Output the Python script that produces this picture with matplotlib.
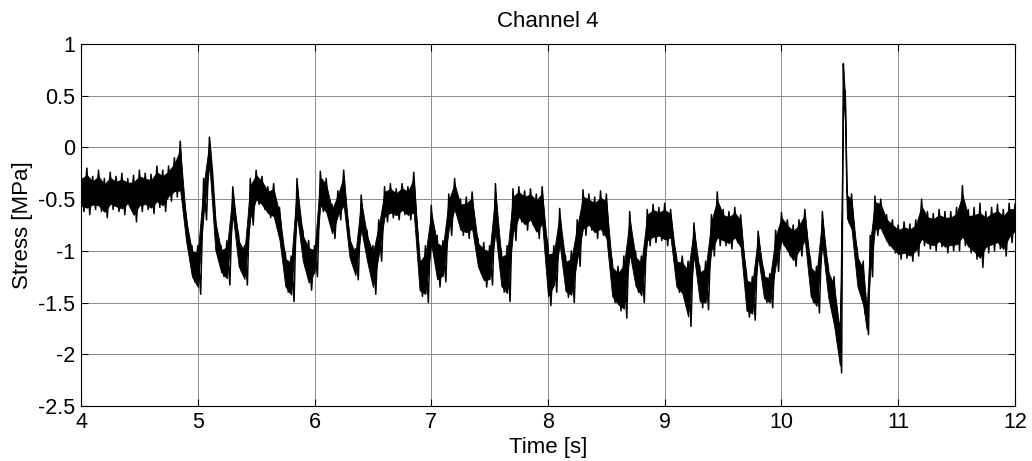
import numpy as np
import matplotlib
matplotlib.use("Agg")
import matplotlib.pyplot as plt

# envelope of the noisy stress signal (time [s], upper/lower [MPa])
t = [4.00, 4.05, 4.10, 4.15, 4.20, 4.25, 4.30, 4.35, 4.40, 4.45,
     4.50, 4.55, 4.60, 4.65, 4.70, 4.75, 4.80, 4.85, 4.90, 4.95,
     5.00, 5.05, 5.10, 5.15, 5.20, 5.25, 5.30, 5.35, 5.40, 5.45,
     5.50, 5.55, 5.60, 5.65, 5.70, 5.75, 5.80, 5.85, 5.90, 5.95,
     6.00, 6.05, 6.10, 6.15, 6.20, 6.25, 6.30, 6.35, 6.40, 6.45,
     6.50, 6.55, 6.60, 6.65, 6.70, 6.75, 6.80, 6.85, 6.90, 6.95,
     7.00, 7.05, 7.10, 7.15, 7.20, 7.25, 7.30, 7.35, 7.40, 7.45,
     7.50, 7.55, 7.60, 7.65, 7.70, 7.75, 7.80, 7.85, 7.90, 7.95,
     8.00, 8.05, 8.10, 8.15, 8.20, 8.25, 8.30, 8.35, 8.40, 8.45,
     8.50, 8.55, 8.60, 8.65, 8.70, 8.75, 8.80, 8.85, 8.90, 8.95,
     9.00, 9.05, 9.10, 9.15, 9.20, 9.25, 9.30, 9.35, 9.40, 9.45,
     9.50, 9.55, 9.60, 9.65, 9.70, 9.75, 9.80, 9.85, 9.90, 9.95,
     10.00, 10.05, 10.10, 10.15, 10.20, 10.25, 10.30, 10.35, 10.40, 10.45,
     10.50, 10.53, 10.545, 10.56, 10.60, 10.65, 10.70, 10.73, 10.76, 10.80,
     10.85, 10.90, 10.95, 11.00, 11.05, 11.10, 11.15, 11.20, 11.25, 11.30,
     11.35, 11.40, 11.45, 11.50, 11.55, 11.60, 11.65, 11.70, 11.75, 11.80,
     11.85, 11.90, 11.95, 12.00]

hi = [-0.25, -0.20, -0.28, -0.22, -0.30, -0.24, -0.28, -0.25, -0.30, -0.27,
      -0.22, -0.25, -0.26, -0.18, -0.22, -0.18, -0.10, 0.06, -0.65, -0.95,
      -0.95, -0.30, 0.10, -0.65, -0.95, -0.90, -0.38, -0.85, -0.95, -0.30,
      -0.22, -0.28, -0.38, -0.35, -0.58, -1.02, -1.05, -0.30, -0.80, -0.90,
      -0.95, -0.23, -0.30, -0.55, -0.42, -0.22, -0.85, -0.98, -0.46, -0.80,
      -0.95, -0.70, -0.38, -0.35, -0.40, -0.35, -0.38, -0.24, -1.05, -0.95,
      -0.56, -0.85, -0.90, -0.45, -0.30, -0.50, -0.48, -0.43, -0.88, -0.92,
      -0.95, -0.35, -1.00, -0.95, -0.40, -0.38, -0.42, -0.40, -0.45, -0.38,
      -0.95, -0.95, -0.59, -1.05, -1.00, -0.70, -0.41, -0.45, -0.48, -0.42,
      -0.45, -1.10, -1.15, -1.05, -0.62, -1.00, -1.05, -0.60, -0.55, -0.58,
      -0.54, -0.60, -1.05, -1.05, -1.10, -0.73, -1.15, -1.10, -0.65, -0.43,
      -0.60, -0.62, -0.58, -0.65, -1.22, -1.25, -0.81, -1.20, -1.22, -0.80,
      -0.63, -0.70, -0.75, -0.70, -0.60, -1.10, -1.15, -0.62, -1.15, -1.25,
      -1.70, 0.81, 0.55, -0.41, -0.45, -1.00, -1.10, -1.50, -0.85, -0.47,
      -0.50, -0.65, -0.70, -0.75, -0.72, -0.74, -0.70, -0.50, -0.62, -0.64,
      -0.60, -0.62, -0.62, -0.58, -0.37, -0.60, -0.58, -0.54, -0.62, -0.58,
      -0.55, -0.60, -0.54, -0.55]

lo = [-0.62, -0.65, -0.60, -0.62, -0.68, -0.60, -0.62, -0.65, -0.58, -0.72,
      -0.62, -0.60, -0.64, -0.58, -0.62, -0.52, -0.48, -0.50, -0.95, -1.30,
      -1.42, -0.70, -0.22, -1.05, -1.25, -1.33, -0.70, -1.20, -1.33, -0.75,
      -0.55, -0.60, -0.68, -0.72, -0.95, -1.40, -1.49, -0.72, -1.15, -1.38,
      -1.25, -0.62, -0.68, -0.88, -0.70, -0.62, -1.10, -1.28, -0.85, -1.15,
      -1.42, -1.10, -0.72, -0.68, -0.70, -0.65, -0.70, -0.70, -1.44, -1.50,
      -1.00, -1.35, -1.30, -0.85, -0.65, -0.85, -0.88, -0.85, -1.20, -1.35,
      -1.33, -0.90, -1.40, -1.49, -0.90, -0.72, -0.80, -0.75, -0.88, -0.80,
      -1.53, -1.40, -1.00, -1.45, -1.50, -1.15, -0.85, -0.80, -0.88, -0.85,
      -0.95, -1.50, -1.58, -1.65, -1.10, -1.40, -1.50, -0.95, -0.92, -0.90,
      -0.95, -0.92, -1.40, -1.47, -1.73, -1.10, -1.55, -1.57, -1.05, -0.95,
      -0.95, -0.98, -0.92, -1.02, -1.64, -1.67, -1.10, -1.50, -1.55, -1.20,
      -0.95, -1.05, -1.15, -1.05, -0.95, -1.50, -1.60, -1.00, -1.50, -1.80,
      -2.18, 0.45, 0.15, -0.73, -0.85, -1.40, -1.60, -1.81, -1.25, -0.85,
      -0.83, -0.95, -1.02, -1.08, -1.07, -1.10, -1.05, -0.95, -0.98, -1.00,
      -0.96, -1.02, -1.00, -1.00, -0.95, -1.02, -1.08, -1.16, -1.02, -1.00,
      -0.98, -1.05, -0.92, -0.85]

plt.rcParams['font.family'] = ['Liberation Sans', 'DejaVu Sans']

fig = plt.figure(figsize=(10.32, 4.61), dpi=100)
ax = fig.add_axes([0.0785, 0.1193, 0.905, 0.7853])

t = np.array(t)
hi = np.array(hi)
lo = np.array(lo)

# solid core of the band, the zigzag below reaches out to the full upper/lower readings
w = hi - lo
ax.fill_between(t, lo + 0.15 * w, hi - 0.15 * w, color='k', lw=0.6)
zt = np.empty(2 * len(t) - 1)
zt[0::2] = t
zt[1::2] = 0.5 * (t[:-1] + t[1:])
zy = np.empty_like(zt)
zy[0::2] = hi
zy[1::2] = lo[:-1]
ax.plot(zt, zy, color='k', lw=1.1)

ax.set_xlim(4, 12)
ax.set_ylim(-2.5, 1)
ax.set_xticks(np.arange(4, 13, 1))
ax.set_yticks(np.arange(-2.5, 1.01, 0.5))
ax.set_yticklabels(['-2.5', '-2', '-1.5', '-1', '-0.5', '0', '0.5', '1'])
ax.grid(True, color='0.55', lw=0.7)
ax.set_axisbelow(True)
ax.tick_params(direction='in', top=True, right=True, length=5, labelsize=15.5, pad=4)
for s in ax.spines.values():
    s.set_linewidth(0.8)

ax.set_title('Channel 4', fontsize=16, pad=12)
ax.set_xlabel('Time [s]', fontsize=16, labelpad=3)
ax.set_ylabel('Stress [MPa]', fontsize=16, labelpad=4)

fig.savefig('out.png', dpi=100)
